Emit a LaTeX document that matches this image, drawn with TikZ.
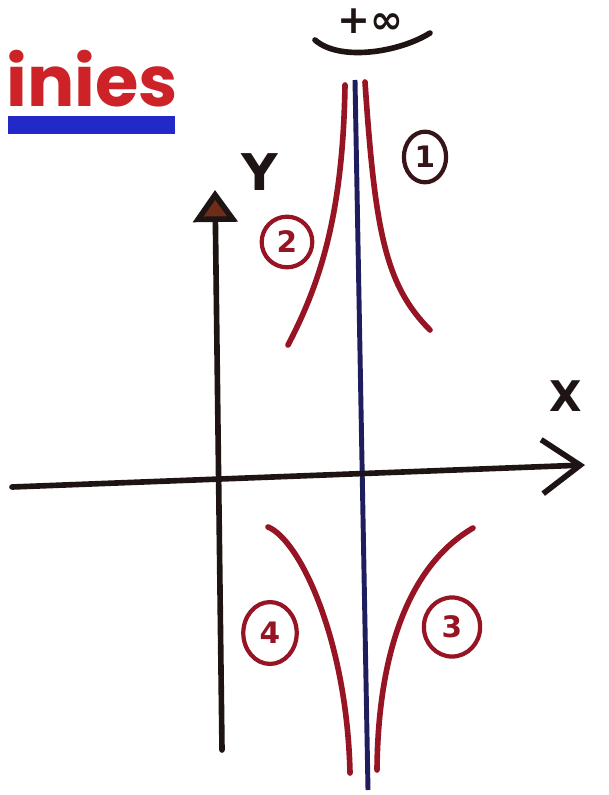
\documentclass[tikz,border=0pt]{standalone}
\usepackage{fontspec}
\setmainfont{DejaVu Sans}
\newfontfamily\titlefont{Poppins}
\usetikzlibrary{arrows.meta}
\definecolor{penred}{RGB}{205,35,40}
\definecolor{curvered}{RGB}{150,20,35}
\definecolor{barblue}{RGB}{35,40,200}
\definecolor{asymblue}{RGB}{30,30,95}
\definecolor{ink}{RGB}{30,20,20}
\definecolor{tipbrown}{RGB}{110,45,25}
\tikzset{
  axis/.style={ink, line width=4pt, line cap=round},
  branch/.style={curvered, line width=4pt, line cap=round},
  num/.style={ellipse, draw=curvered, line width=3pt, inner sep=2pt, text=curvered, font=\bfseries\fontsize{21}{21}\selectfont},
  lbl/.style={ink, font=\bfseries\fontsize{30}{30}\selectfont}
}
\usetikzlibrary{shapes.geometric}
\begin{document}
\begin{tikzpicture}[x=0.025cm,y=-0.025cm]
\useasboundingbox (0,0) rectangle (608,795);
\fill[white] (0,0) rectangle (608,795);
% title
\node[anchor=base west, inner sep=0, text=penred, font=\titlefont\bfseries\fontsize{50}{50}\selectfont] (title) at (6,107) {inies};
\coordinate (barL) at (8,125);
\coordinate (barR) at (175,125);
\draw[barblue, line width=13pt] (barL) -- (barR);
% +infinity
\node[lbl, font=\bfseries\fontsize{28}{28}\selectfont] (inf) at (370,21) {+∞};
\coordinate (infL) at (315,40);
\coordinate (infR) at (430,33);
\draw[ink, line width=4pt, line cap=round] (infL) .. controls (340,62) and (400,52) .. (infR);
% asymptote
\coordinate (asT) at (355,80);
\coordinate (asB) at (368,790);
\draw[asymblue, line width=3.5pt] (asT) -- (asB);
% axes
\coordinate (yB) at (222,750);
\coordinate (yT) at (215,190);
\draw[axis, -{Triangle[length=0.8cm,width=1.1cm,fill=tipbrown]}] (yB) -- (yT);
\coordinate (xL) at (12,487);
\coordinate (xR) at (585,465);
\draw[axis, -{Straight Barb[length=0.95cm,width=1.35cm,line width=4pt]}] (xL) -- (xR);
\node[lbl, font=\bfseries\fontsize{36}{36}\selectfont] (ylab) at (260,172) {Y};
\node[lbl] (xlab) at (566,396) {X};
% branches
\coordinate (b2s) at (345,85);
\coordinate (b2e) at (288,345);
\draw[branch] (b2s) .. controls (343,210) and (322,280) .. (b2e);
\coordinate (b1s) at (365,82);
\coordinate (b1e) at (430,330);
\draw[branch] (b1s) .. controls (375,230) and (385,285) .. (b1e);
\coordinate (b4s) at (268,527);
\coordinate (b4e) at (350,773);
\draw[branch] (b4s) .. controls (300,540) and (347,640) .. (b4e);
\coordinate (b3s) at (473,528);
\coordinate (b3e) at (377,770);
\draw[branch] (b3s) .. controls (410,565) and (378,650) .. (b3e);
% circled numbers
\node[num, draw=ink!80!curvered, text=ink!80!curvered, minimum width=30pt, minimum height=36pt] (n1) at (425,157) {1};
\node[num, minimum width=36pt, minimum height=36pt] (n2) at (287,242) {2};
\node[num, minimum width=38pt, minimum height=44pt] (n4) at (270,633) {4};
\node[num, minimum width=40pt, minimum height=42pt] (n3) at (452,627) {3};
\end{tikzpicture}
\end{document}
